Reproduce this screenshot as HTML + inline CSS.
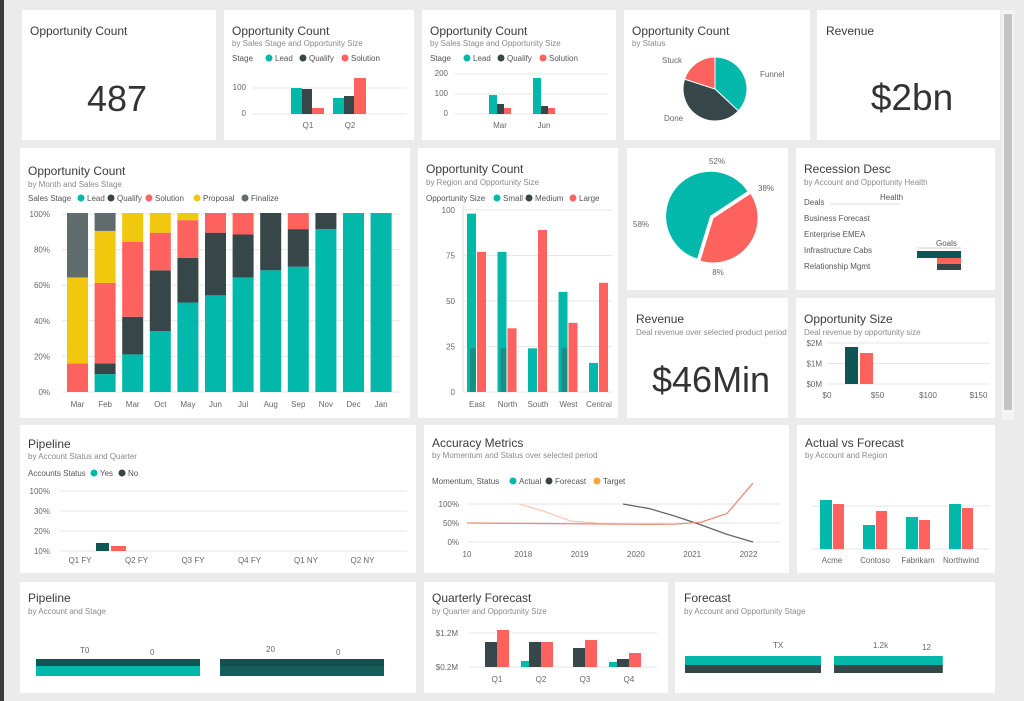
<!DOCTYPE html>
<html><head><meta charset="utf-8"><style>
html,body{margin:0;padding:0;background:#ebebeb;}
svg{display:block;font-family:"Liberation Sans",sans-serif;}
.t{font-size:12px;fill:#3a3a3a;}
.s{font-size:8px;fill:#8a8a8a;}
.l{font-size:8px;fill:#555;}
.ax{font-size:8px;fill:#666;}
.big{fill:#333;}
</style></head><body>
<svg id="dash" width="1024" height="701" viewBox="0 0 1024 701">
<rect x="0" y="0" width="1024" height="701" fill="#ebebeb"/>
<rect x="0" y="0" width="4" height="701" fill="#3a3a3a"/>
<rect x="1002" y="10" width="12" height="410" fill="#f4f4f4"/>
<rect x="1004" y="14" width="8" height="396" fill="#c4c4c4"/>

<g>
<rect x="22" y="10" width="194" height="130" fill="#fff"/>
<text class="t" x="30" y="35">Opportunity Count</text>
<text class="big" x="117" y="111" font-size="36" text-anchor="middle">487</text>
</g>
<g>
<rect x="224" y="10" width="190" height="130" fill="#fff"/>
<text class="t" x="232" y="35">Opportunity Count</text>
<text class="s" x="232" y="46">by Sales Stage and Opportunity Size</text>
</g>
<g>
<rect x="422" y="10" width="194" height="130" fill="#fff"/>
<text class="t" x="430" y="35">Opportunity Count</text>
<text class="s" x="430" y="46">by Sales Stage and Opportunity Size</text>
</g>
<g>
<rect x="624" y="10" width="186" height="130" fill="#fff"/>
<text class="t" x="632" y="35">Opportunity Count</text>
<text class="s" x="632" y="46">by Status</text>
</g>
<g>
<rect x="817" y="10" width="183" height="130" fill="#fff"/>
<text class="t" x="826" y="35">Revenue</text>
<text class="big" x="912" y="110" font-size="37" text-anchor="middle">$2bn</text>
</g>

<g>
<rect x="20" y="148" width="390" height="270" fill="#fff"/>
<text class="t" x="28" y="175">Opportunity Count</text>
<text class="s" x="28" y="187">by Month and Sales Stage</text>
</g>
<g>
<rect x="418" y="148" width="200" height="270" fill="#fff"/>
<text class="t" x="426" y="173">Opportunity Count</text>
<text class="s" x="426" y="185">by Region and Opportunity Size</text>
</g>
<g>
<rect x="627" y="148" width="161" height="142" fill="#fff"/>
</g>
<g>
<rect x="796" y="148" width="199" height="142" fill="#fff"/>
<text class="t" x="804" y="173">Recession Desc</text>
<text class="s" x="804" y="185">by Account and Opportunity Health</text>
<text class="l" x="880" y="200">Health</text>
<text class="l" x="804" y="205">Deals</text>
<line x1="830" y1="204" x2="900" y2="204" stroke="#ddd"/>
<text class="l" x="804" y="221">Business Forecast</text>
<text class="l" x="804" y="237">Enterprise EMEA</text>
<text class="l" x="804" y="253">Infrastructure Cabs</text>
<text class="l" x="804" y="269">Relationship Mgmt</text>
<text class="l" x="936" y="246" font-size="6">Goals</text>
</g>
<g>
<rect x="627" y="298" width="161" height="120" fill="#fff"/>
<text class="t" x="636" y="323">Revenue</text>
<text class="s" x="636" y="335">Deal revenue over selected product period</text>
<text class="big" x="652" y="392" font-size="36">$46Min</text>
</g>
<g>
<rect x="796" y="298" width="199" height="120" fill="#fff"/>
<text class="t" x="804" y="323">Opportunity Size</text>
<text class="s" x="804" y="335">Deal revenue by opportunity size</text>
</g>

<g>
<rect x="20" y="425" width="396" height="148" fill="#fff"/>
<text class="t" x="28" y="448">Pipeline</text>
<text class="s" x="28" y="459">by Account Status and Quarter</text>
</g>
<g>
<rect x="424" y="425" width="365" height="148" fill="#fff"/>
<text class="t" x="432" y="447">Accuracy Metrics</text>
<text class="s" x="432" y="458">by Momentum and Status over selected period</text>
</g>
<g>
<rect x="797" y="425" width="198" height="148" fill="#fff"/>
<text class="t" x="805" y="447">Actual vs Forecast</text>
<text class="s" x="805" y="458">by Account and Region</text>
</g>

<g>
<rect x="20" y="582" width="396" height="111" fill="#fff"/>
<text class="t" x="28" y="602">Pipeline</text>
<text class="s" x="28" y="614">by Account and Stage</text>
</g>
<g>
<rect x="424" y="582" width="244" height="111" fill="#fff"/>
<text class="t" x="432" y="602">Quarterly Forecast</text>
<text class="s" x="432" y="614">by Quarter and Opportunity Size</text>
</g>
<g>
<rect x="675" y="582" width="320" height="111" fill="#fff"/>
<text class="t" x="684" y="602">Forecast</text>
<text class="s" x="684" y="614">by Account and Opportunity Stage</text>
</g>
</svg>
<script>
// ---- data ----
const TEAL='#01b8aa',DARK='#374649',RED='#fd625e',YEL='#f2c80f',GRAY='#5f6b6d',DTEAL='#0e5656';
const bQuarters=['Q1','Q2'];
const bLead=[26,16];
const bQualify=[25,18];
const bSolution=[6,36];
const cQuarters=['Mar','Jun'];
const cLead=[19,36];
const cQualify=[10,8];
const cSolution=[6,6];
const dStatus=['Funnel','Done','Stuck'];
const dValues=[37,43,20];
const fMonths=['Mar','Feb','Mar','Oct','May','Jun','Jul','Aug','Sep','Nov','Dec','Jan'];
const fLead=[0,10,21,34,50,54,64,68,70,91,100,100];
const fQualify=[0,6,21,34,25,35,24,32,21,9,0,0];
const fSolution=[16,45,42,21,21,11,12,0,9,0,0,0];
const fProposal=[48,29,16,11,4,0,0,0,0,0,0,0];
const fFinalize=[36,10,0,0,0,0,0,0,0,0,0,0];
const fTicks=['100%','80%','60%','40%','20%','0%'];
const gRegions=['East','North','South','West','Central'];
const gSmall=[98,77,24,55,16];
const gMedium=[24,24,0,24,0];
const gLarge=[77,35,89,38,60];
const gTicks=['100','75','50','25','0'];
const hValues=[61,39];
const iDark=[44,24];
const iRed=[24];
const kSizes=['Small','Large'];
const kDark=[37];
const kRed=[31];
const kTicks=['$2M','$1M','$0M'];
const kXLabels=['$0','$50','$100','$150'];
const lQuarters=['Q1 FY','Q2 FY','Q3 FY','Q4 FY','Q1 NY','Q2 NY'];
const lYes=[8,0,0,0,0,0];
const lNo=[5,0,0,0,0,0];
const lTicks=['100%','30%','20%','10%'];
const mPeriods=['10','2018','2019','2020','2021','2022'];
const mActual=[50,49.5,49,48.5,48,47.5,47,46.5,47,52,75,155];
const mForecast=[null,null,null,null,null,null,100,88,68,45,20,0];
const mTarget=[null,null,100,80,55,50,null,null,null,null,null,null];
const mTicks=['100%','50%','0%'];
const nAccounts=['Acme','Contoso','Fabrikam','Northwind'];
const nActual=[49,24,32,45];
const nForecast=[45,38,29,41];
const oAccounts=['Teal','Ops'];
const oValues=[100,100];
const pQuarters=['Q1','Q2','Q3','Q4'];
const pSmall=[0,6,0,5];
const pMedium=[25,25,19,8];
const pLarge=[37,25,27,14];
const qValues=[100,80];

const NS='http://www.w3.org/2000/svg';
const svg=document.getElementById('dash');
function mk(tag,attrs){const e=document.createElementNS(NS,tag);for(const k in attrs)e.setAttribute(k,attrs[k]);svg.appendChild(e);return e;}
function txt(x,y,s,cls,anchor){const e=mk('text',{x:x,y:y,class:cls||'ax','text-anchor':anchor||'start'});e.textContent=s;return e;}
function legend(x,y,items){let cx=x;items.forEach(it=>{
if(it[1]){const c=mk('circle',{cx:cx+3,cy:y-3,r:3.5,fill:it[1]});

}
const t=txt(it[1]?cx+9:cx,y,it[0],'l');


cx+=it[2];});}
function rect(x,y,w,h,fill,name){const r=mk('rect',{x:x,y:y,width:w,height:Math.max(0,h),fill:fill});


return r;}
function grid(x1,x2,y){const l=mk('line',{x1:x1,x2:x2,y1:y,y2:y,stroke:'#e6e6e6'});

}
function pie(cx,cy,r,vals,cols,start,explode){const tot=vals.reduce((a,b)=>a+b,0);let a=start;vals.forEach((v,i)=>{const a2=a+v/tot*360;const ex=(explode&&explode[i])||0;const mid=(a+a2)/2*Math.PI/180;const ox=Math.sin(mid)*ex,oy=-Math.cos(mid)*ex;
const p=(ang)=>[cx+ox+r*Math.sin(ang*Math.PI/180),cy+oy-r*Math.cos(ang*Math.PI/180)];const s=p(a),e=p(a2);
const path=mk('path',{d:`M${cx+ox},${cy+oy}L${s[0]},${s[1]}A${r},${r} 0 ${a2-a>180?1:0} 1 ${e[0]},${e[1]}Z`,fill:cols[i],stroke:'#fff','stroke-width':1});


a=a2;});}

// ---- B ----
legend(232,61,[['Stage',0,0]]);
legend(266,61,[['Lead',TEAL,34],['Qualify',DARK,42],['Solution',RED,40]]);
(function(){const yB=v=>114-v;grid(253,407,88);grid(253,407,114);txt(246,90,'100','ax','end');txt(246,116,'0','ax','end');
bQuarters.forEach((q,i)=>{const x=291+i*42;rect(x,yB(bLead[i]),11,bLead[i],TEAL,'bar-b-lead');rect(x+11,yB(bQualify[i]),10,bQualify[i],DARK,'bar-b-qualify');rect(x+21,yB(bSolution[i]),12,bSolution[i],RED,'bar-b-solution');txt(x+17,128,q,'ax','middle');});})();
// ---- C ----
legend(430,61,[['Stage',0,0]]);
legend(464,61,[['Lead',TEAL,34],['Qualify',DARK,42],['Solution',RED,40]]);
(function(){const yC=v=>114-v;grid(455,608,74);grid(455,608,94);grid(455,608,114);txt(448,76,'200','ax','end');txt(448,96,'100','ax','end');txt(448,116,'0','ax','end');
cQuarters.forEach((q,i)=>{const x=489+i*44;rect(x,yC(cLead[i]),8,cLead[i],TEAL,'bar-c-lead');rect(x+8,yC(cQualify[i]),7,cQualify[i],DARK,'bar-c-qualify');rect(x+15,yC(cSolution[i]),7,cSolution[i],RED,'bar-c-solution');txt(x+11,128,q,'ax','middle');});})();
// ---- D ----
pie(715,89,32,dValues,[TEAL,DARK,RED],0);
txt(760,77,'Funnel','ax');txt(664,121,'Done','ax');txt(662,63,'Stuck','ax');
// ---- F stacked ----
legend(28,201,[['Sales Stage',0,0]]);
legend(78,201,[['Lead',TEAL,30],['Qualify',DARK,38],['Solution',RED,48],['Proposal',YEL,48],['Finalize',GRAY,40]]);
(function(){const y0=392,k=1.79;fTicks.forEach((t,i)=>{const y=214+i*35.6;grid(62,400,y);txt(50,y+3,t,'ax','end');});
const series=[[fLead,TEAL,'lead'],[fQualify,DARK,'qualify'],[fSolution,RED,'solution'],[fProposal,YEL,'proposal'],[fFinalize,GRAY,'finalize']];
fMonths.forEach((m,i)=>{const x=67+i*27.6;let acc=0;series.forEach(s=>{const v=s[0][i];if(v>0){rect(x,y0-(acc+v)*k,21,v*k,s[1],'bar-'+s[2]);}acc+=v;});txt(x+10.5,407,m,'ax','middle');});})();
// ---- G clustered ----
legend(426,201,[['Opportunity Size',0,0]]);
legend(494,201,[['Small',TEAL,32],['Medium',DARK,44],['Large',RED,30]]);
(function(){const yG=v=>392-v*1.82;gTicks.forEach((t,i)=>{const y=210+i*45.5;grid(463,612,y);txt(455,y+3,t,'ax','end');});
const ax=mk('line',{x1:463,x2:463,y1:205,y2:392,stroke:'#ddd'});
gRegions.forEach((r,i)=>{const x=467+i*30.5;rect(x,yG(gSmall[i]),9,gSmall[i]*1.82,TEAL,'bar-g-small');if(gMedium[i]>0)rect(x+3,yG(gMedium[i]),6,gMedium[i]*1.82,'#168f86','bar-g-medium');rect(x+10,yG(gLarge[i]),9,gLarge[i]*1.82,RED,'bar-g-large');txt(x+10,407,r,'ax','middle');});})();
// ---- H pie ----
pie(713,218,45,hValues,[TEAL,RED],-163,[3,0]);
txt(717,164,'52%','ax','middle');txt(758,191,'38%','ax');txt(633,227,'58%','ax');txt(718,275,'8%','ax','middle');
// ---- I mini bars ----
(function(){const xI=v=>961-v;rect(xI(iDark[0]),251,iDark[0],7,DTEAL,'bar-i-dark');rect(xI(iRed[0]),258,iRed[0],6,RED,'bar-i-red');rect(xI(iDark[1]),264,iDark[1],6,DARK,'bar-i-dark2');
const l=mk('line',{x1:917,x2:961,y1:248,y2:248,stroke:'#ccc'});})();
// ---- K ----
(function(){const yK=v=>384-v;kTicks.forEach((t,i)=>{const y=343+i*20.5;grid(827,990,y);txt(822,y+3,t,'ax','end');});
kSizes.forEach((s,i)=>{if(i<kDark.length){rect(845,yK(kDark[i]),13,kDark[i],DTEAL,'bar-k-dark');rect(860,yK(kRed[i]),13,kRed[i],RED,'bar-k-red');}});
kXLabels.forEach((t,i)=>txt(827+i*50.5,398,t,'ax','middle'));})();
// ---- L ----
legend(28,476,[['Accounts Status',0,0]]);
legend(91,476,[['Yes',TEAL,28],['No',DARK,28]]);
(function(){const yL=v=>551-v;lTicks.forEach((t,i)=>{const y=491+i*20;grid(60,407,y);txt(50,y+3,t,'ax','end');});
lQuarters.forEach((q,i)=>{const x=96+i*56.5;if(lYes[i]>0)rect(x,yL(lYes[i]),13,lYes[i],DTEAL,'bar-l-yes');if(lNo[i]>0)rect(x+15,yL(lNo[i]),15,lNo[i],RED,'bar-l-no');txt(x-16,563,q,'ax','middle');});})();
// ---- M lines ----
legend(432,484,[['Momentum, Status',0,0]]);
legend(510,484,[['Actual',TEAL,36],['Forecast',DARK,48],['Target','#f8a33b',40]]);
(function(){const yM=v=>542-v*0.38;const xM=i=>467+i*26;mTicks.forEach((t,i)=>{const y=504+i*19;grid(467,780,y);txt(459,y+3,t,'ax','end');});
mPeriods.forEach((p,i)=>txt(467+i*56.3,557,p,'ax','middle'));
function line(arr,col,name){let d='';arr.forEach((v,i)=>{if(v===null)return;d+=(d?'L':'M')+xM(i)+','+yM(v);});const p=mk('path',{d:d,fill:'none',stroke:col,'stroke-width':1.3});

}
line(mTarget,'#f9c9b6','line-target');line(mForecast,'#666','line-forecast');line(mActual,'#f08a78','line-actual');})();
// ---- N ----
(function(){const yN=v=>549-v;grid(812,990,506);grid(812,990,549);
nAccounts.forEach((a,i)=>{const x=820+i*43;rect(x,yN(nActual[i]),12,nActual[i],TEAL,'bar-n-actual');rect(x+13,yN(nForecast[i]),11,nForecast[i],RED,'bar-n-forecast');txt(x+12,563,a,'ax','middle');});})();
// ---- O ----
(function(){oAccounts.forEach((a,i)=>{const x=36+i*184;const w=oValues[i]*1.64;rect(x,659,w,7,i?'#11514f':DTEAL,'bar-o-top');rect(x,666,w,10,i?'#145f5c':TEAL,'bar-o-bottom');});
txt(80,653,'T0');txt(150,655,'0');txt(266,652,'20');txt(336,655,'0');})();
// ---- P ----
(function(){const yP=v=>667-v;grid(469,657,633);grid(469,657,667);txt(458,636,'$1.2M','ax','end');txt(458,670,'$0.2M','ax','end');
pQuarters.forEach((q,i)=>{const x=485+i*44;if(pSmall[i]>0)rect(x-8,yP(pSmall[i]),8,pSmall[i],TEAL,'bar-p-small');rect(x,yP(pMedium[i]),12,pMedium[i],DARK,'bar-p-medium');rect(x+12,yP(pLarge[i]),12,pLarge[i],RED,'bar-p-large');txt(x+12,682,q,'ax','middle');});})();
// ---- Q ----
(function(){qValues.forEach((v,i)=>{const x=685+i*149;const w=v*1.36;rect(x,656,w,9,TEAL,'bar-q-top');rect(x,665,w,8,DARK,'bar-q-bottom');});
txt(773,648,'TX');txt(873,648,'1.2k');txt(922,650,'12');})();
</script>
</body></html>
